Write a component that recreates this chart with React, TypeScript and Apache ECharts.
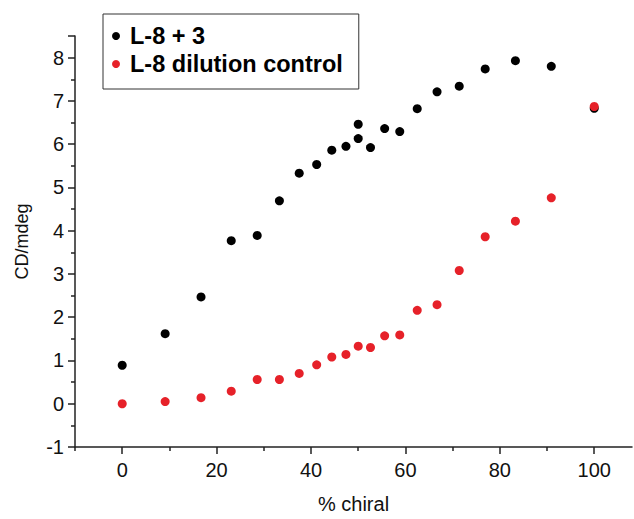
import React, { useEffect, useRef } from "react";
import * as echarts from "echarts";

const chiralBlack = [0, 9.1, 16.7, 23.1, 28.6, 33.3, 37.5, 41.2, 44.4, 47.4, 50, 50, 52.6, 55.6, 58.8, 62.5, 66.7, 71.4, 76.9, 83.3, 90.9, 100];
const cdBlack = [0.89, 1.62, 2.47, 3.77, 3.89, 4.69, 5.33, 5.53, 5.86, 5.95, 6.46, 6.13, 5.92, 6.36, 6.29, 6.82, 7.21, 7.34, 7.74, 7.93, 7.80, 6.83];

const chiralRed = [0, 9.1, 16.7, 23.1, 28.6, 33.3, 37.5, 41.2, 44.4, 47.4, 50, 52.6, 55.6, 58.8, 62.5, 66.7, 71.4, 76.9, 83.3, 90.9, 100];
const cdRed = [0.0, 0.05, 0.14, 0.29, 0.56, 0.56, 0.70, 0.90, 1.08, 1.14, 1.33, 1.30, 1.57, 1.59, 2.16, 2.29, 3.08, 3.86, 4.22, 4.76, 6.87];

const xMajorTicks = [0, 20, 40, 60, 80, 100];
const xMinorTicks = [-10, 10, 30, 50, 70, 90];
const yTickLabels = [-1, 0, 1, 2, 3, 4, 5, 6, 7, 8];

const seriesNames = ["L-8 + 3", "L-8 dilution control"];

const FONT = "'Liberation Sans', Arial, Helvetica, sans-serif";

export default function App() {
  const ref = useRef<HTMLDivElement>(null);
  useEffect(() => {
    if (!ref.current) return;
    const chart = echarts.init(ref.current, undefined, { renderer: "svg" });
    const axisColor = "#222";
    chart.setOption({
      animation: false,
      backgroundColor: "#fff",
      grid: { left: 75, right: 2, top: 36, bottom: 68, containLabel: false },
      legend: {
        orient: "vertical",
        left: 103,
        top: 14,
        padding: [10, 16, 13, 9],
        itemGap: 4,
        itemWidth: 18,
        itemHeight: 8,
        icon: "circle",
        borderColor: "#333",
        borderWidth: 1,
        borderRadius: 0,
        data: seriesNames,
        textStyle: { fontSize: 23.5, fontWeight: "bold", fontFamily: FONT, color: "#000", lineHeight: 23 },
      },
      xAxis: [
        {
          type: "value",
          min: -10,
          max: 108,
          name: "% chiral",
          nameLocation: "middle",
          nameGap: 47,
          nameTextStyle: { fontSize: 20, fontFamily: FONT, color: "#111" },
          axisLine: { show: true, onZero: false, lineStyle: { color: axisColor, width: 1.5 } },
          axisTick: { show: true, customValues: xMajorTicks, length: 7, lineStyle: { color: axisColor, width: 1.5 } },
          axisLabel: { show: true, customValues: xMajorTicks, margin: 13, fontSize: 20, fontFamily: FONT, color: "#111" },
          splitLine: { show: false },
        },
        {
          type: "value",
          min: -10,
          max: 108,
          position: "bottom",
          axisLine: { show: false, onZero: false },
          axisTick: { show: true, customValues: xMinorTicks, length: 4, lineStyle: { color: axisColor, width: 1.5 } },
          axisLabel: { show: false },
          splitLine: { show: false },
        },
      ],
      yAxis: {
        type: "value",
        min: -1,
        max: 8.5,
        interval: 1,
        name: "CD/mdeg",
        nameLocation: "middle",
        nameGap: 44,
        nameTextStyle: { fontSize: 18, fontFamily: FONT, color: "#111" },
        axisLine: { show: true, onZero: false, lineStyle: { color: axisColor, width: 1.5 } },
        axisTick: { show: true, length: 7, lineStyle: { color: axisColor, width: 1.5 } },
        minorTick: { show: true, splitNumber: 2, length: 4, lineStyle: { color: axisColor, width: 1.5 } },
        axisLabel: { show: true, customValues: yTickLabels, margin: 11, fontSize: 20, fontFamily: FONT, color: "#111" },
        splitLine: { show: false },
        minorSplitLine: { show: false },
      },
      series: [
        {
          name: seriesNames[0],
          type: "scatter",
          xAxisIndex: 0,
          symbol: "circle",
          symbolSize: 9,
          itemStyle: { color: "#000", opacity: 1 },
          data: chiralBlack.map((x, i) => [x, cdBlack[i]]),
        },
        {
          name: seriesNames[1],
          type: "scatter",
          xAxisIndex: 0,
          symbol: "circle",
          symbolSize: 9,
          itemStyle: { color: "#e62129", opacity: 1 },
          data: chiralRed.map((x, i) => [x, cdRed[i]]),
        },
      ],
    });
    return () => chart.dispose();
  }, []);
  return <div ref={ref} style={{ position: "fixed", left: 0, top: 0, width: 634, height: 519 }} />;
}
